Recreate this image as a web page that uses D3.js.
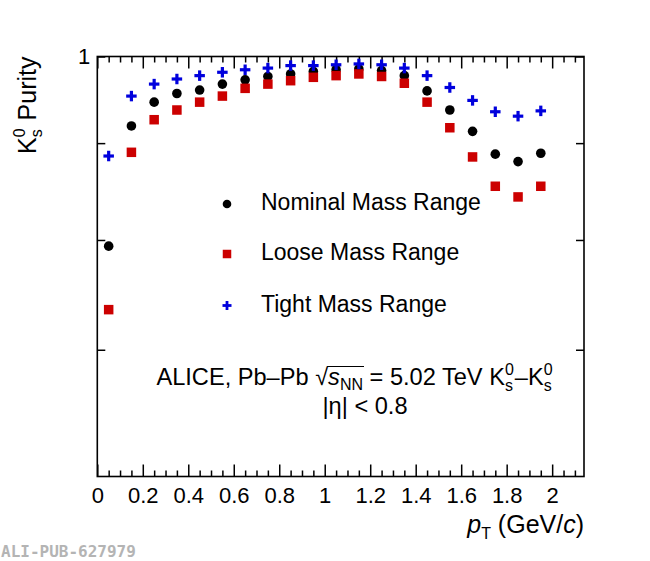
<!DOCTYPE html>
<html>
<head>
<meta charset="utf-8">
<script src="https://cdn.jsdelivr.net/npm/d3@7"></script>
<style>
  body { margin: 0; background: #fff; }
  text { font-family: "Liberation Sans", Arial, sans-serif; white-space: pre; }
</style>
</head>
<body>
<svg id="chart" width="650" height="561"></svg>
<script>
// pT bin centres (GeV/c)
const ptBins = [0.05, 0.15, 0.25, 0.35, 0.45, 0.55, 0.65, 0.75, 0.85, 0.95,
                1.05, 1.15, 1.25, 1.35, 1.45, 1.55, 1.65, 1.75, 1.85, 1.95]

// purity for the three mass windows
const nominalPurity = [0.794, 0.919, 0.946, 0.956, 0.960, 0.967, 0.972, 0.976, 0.979, 0.982,
                       0.984, 0.985, 0.983, 0.977, 0.959, 0.937, 0.913, 0.888, 0.880, 0.889]
const loosePurity = [0.735, 0.890, 0.926, 0.937, 0.946, 0.953, 0.962, 0.967, 0.971, 0.975,
                     0.977, 0.979, 0.976, 0.968, 0.946, 0.917, 0.885, 0.854, 0.843, 0.854]
const tightPurity = [0.886, 0.953, 0.967, 0.973, 0.977, 0.981, 0.984, 0.986, 0.989, 0.989,
                     0.990, 0.991, 0.990, 0.986, 0.977, 0.963, 0.948, 0.935, 0.930, 0.936]

const xMajorTicks = [0, 0.2, 0.4, 0.6, 0.8, 1, 1.2, 1.4, 1.6, 1.8, 2]
const xMinorTicks = d3.range(1, 43).map(i => +(i * 0.05).toFixed(2)).filter(v => Math.round(v * 100) % 20 != 0)
const yTicks = [0.7, 0.8, 0.9, 1]
const yTickLabels = ["", "", "", "1"]

const legendLabels = ["Nominal Mass Range", "Loose Mass Range", "Tight Mass Range"]

const svg = d3.select("#chart")

const plotLeft = 97.3, plotRight = 584, plotTop = 56.5, plotBottom = 476.5

const x = d3.scaleLinear().domain([0, 2.14]).range([plotLeft, plotRight])
const y = d3.scaleLog().domain([0.6, 1]).range([plotBottom, plotTop])

// axes (ticks point inward like ROOT)
let bottomAxis = svg.append("g")
    .attr("transform", `translate(0,${plotBottom})`)
    .call(d3.axisBottom(x).tickValues(xMajorTicks).tickSize(-12).tickPadding(11)
        .tickFormat(d => d3.format("")(+d.toFixed(1))))
bottomAxis.selectAll("text").attr("font-size", 22).attr("fill", "#000")

svg.append("g")
    .attr("transform", `translate(0,${plotBottom})`)
    .call(d3.axisBottom(x).tickValues(xMinorTicks).tickSize(-6).tickFormat(""))

svg.append("g")
    .attr("transform", `translate(0,${plotTop})`)
    .call(d3.axisTop(x).tickValues(xMajorTicks).tickSize(-12).tickFormat(""))
svg.append("g")
    .attr("transform", `translate(0,${plotTop})`)
    .call(d3.axisTop(x).tickValues(xMinorTicks).tickSize(-6).tickFormat(""))

let leftAxis = svg.append("g")
    .attr("transform", `translate(${plotLeft},0)`)
    .call(d3.axisLeft(y).tickValues(yTicks).tickSize(-8).tickPadding(7)
        .tickFormat((d, i) => yTickLabels[i]))
leftAxis.selectAll("text").attr("font-size", 22).attr("fill", "#000")

svg.append("g")
    .attr("transform", `translate(${plotRight},0)`)
    .call(d3.axisRight(y).tickValues(yTicks).tickSize(-8).tickFormat(""))

svg.selectAll(".domain").remove()
svg.selectAll(".tick line").attr("stroke", "#000").attr("stroke-width", 1.5)

svg.append("rect")
    .attr("x", plotLeft).attr("y", plotTop)
    .attr("width", plotRight - plotLeft).attr("height", plotBottom - plotTop)
    .attr("fill", "none").attr("stroke", "#000").attr("stroke-width", 1.6)

// markers
const red = "#cc0000"
const blue = "#0000dd"

function drawCircle(g, cx, cy, r) {
    g.append("circle").attr("cx", cx).attr("cy", cy).attr("r", r).attr("fill", "#000")
}
function drawSquare(g, cx, cy, s) {
    g.append("rect").attr("x", cx - s / 2).attr("y", cy - s / 2)
        .attr("width", s).attr("height", s).attr("fill", red)
}
function drawCross(g, cx, cy, s, w) {
    g.append("rect").attr("x", cx - s / 2).attr("y", cy - w / 2).attr("width", s).attr("height", w).attr("fill", blue)
    g.append("rect").attr("x", cx - w / 2).attr("y", cy - s / 2).attr("width", w).attr("height", s).attr("fill", blue)
}

let points = svg.append("g")
ptBins.forEach((pt, i) => drawCircle(points, x(pt), y(nominalPurity[i]), 4.8))
ptBins.forEach((pt, i) => drawSquare(points, x(pt), y(loosePurity[i]), 9.5))
ptBins.forEach((pt, i) => drawCross(points, x(pt), y(tightPurity[i]), 10.5, 3.2))

// legend
let legend = svg.append("g")
const legendY = [204, 254, 305.5]
drawCircle(legend, 227, legendY[0], 4.3)
drawSquare(legend, 227, legendY[1], 8.5)
drawCross(legend, 227, legendY[2], 9, 2.8)
legendLabels.forEach((t, i) => {
    legend.append("text")
        .attr("x", 261).attr("y", legendY[i] + 6)
        .attr("font-size", 23)
        .text(t)
})

// lay out a row of text pieces, advancing x by measured widths
function textRow(g, parts) {
    let cx = 0
    let marks = {}
    parts.forEach(p => {
        if (p.mark) { marks[p.mark] = cx; return }
        if (p.stack) {
            let a = g.append("text").attr("x", cx).attr("y", p.up).attr("font-size", p.size).text(p.stack[0])
            let b = g.append("text").attr("x", cx).attr("y", p.down).attr("font-size", p.size).text(p.stack[1])
            cx += Math.max(a.node().getComputedTextLength(), b.node().getComputedTextLength()) + 1
            return
        }
        let t = g.append("text").attr("x", cx).attr("y", p.dy || 0)
            .attr("font-size", p.size)
            .attr("font-style", p.italic ? "italic" : "normal")
            .text(p.t)
        cx += t.node().getComputedTextLength()
    })
    return { width: cx, marks: marks }
}

// y-axis title
let yTitle = svg.append("g")
let yt = textRow(yTitle, [
    { t: "K", size: 25 },
    { stack: ["0", "s"], size: 16, up: -11, down: 6 },
    { t: " Purity", size: 25 }
])
yTitle.attr("transform", `translate(36,${plotTop + yt.width}) rotate(-90)`)

// x-axis title
let xTitle = svg.append("g")
let xt = textRow(xTitle, [
    { t: "p", size: 25, italic: true },
    { t: "T", size: 16, dy: 6 },
    { t: " (GeV/", size: 25 },
    { t: "c", size: 25, italic: true },
    { t: ")", size: 25 }
])
xTitle.attr("transform", `translate(${plotRight - xt.width},533)`)

// collision system annotation
let ann1 = svg.append("g")
let a1 = textRow(ann1, [
    { t: "ALICE, Pb\u2013Pb ", size: 23.6 },
    { t: "\u221A", size: 23.6 },
    { mark: "ovStart" },
    { t: "s", size: 23.6, italic: true },
    { t: "NN", size: 16, dy: 5 },
    { mark: "ovEnd" },
    { t: " = 5.02 TeV K", size: 23.6 },
    { stack: ["0", "s"], size: 16, up: -10, down: 6 },
    { t: "\u2013K", size: 23.6 },
    { stack: ["0", "s"], size: 16, up: -10, down: 6 }
])
ann1.append("line")
    .attr("x1", a1.marks.ovStart - 1).attr("x2", a1.marks.ovEnd + 1)
    .attr("y1", -18.5).attr("y2", -18.5)
    .attr("stroke", "#000").attr("stroke-width", 1.1)
ann1.attr("transform", `translate(${355 - a1.width / 2},385)`)

let ann2 = svg.append("g")
let a2 = textRow(ann2, [
    { t: "|\u03B7| < 0.8", size: 23.6 }
])
ann2.attr("transform", `translate(${365 - a2.width / 2},414)`)

// publication id
svg.append("text")
    .attr("x", 1).attr("y", 557)
    .style("font-family", "'DejaVu Sans Mono', monospace")
    .attr("font-weight", "bold")
    .attr("font-size", 16)
    .attr("fill", "#b4b4b4")
    .text("ALI-PUB-627979")
</script>
</body>
</html>
